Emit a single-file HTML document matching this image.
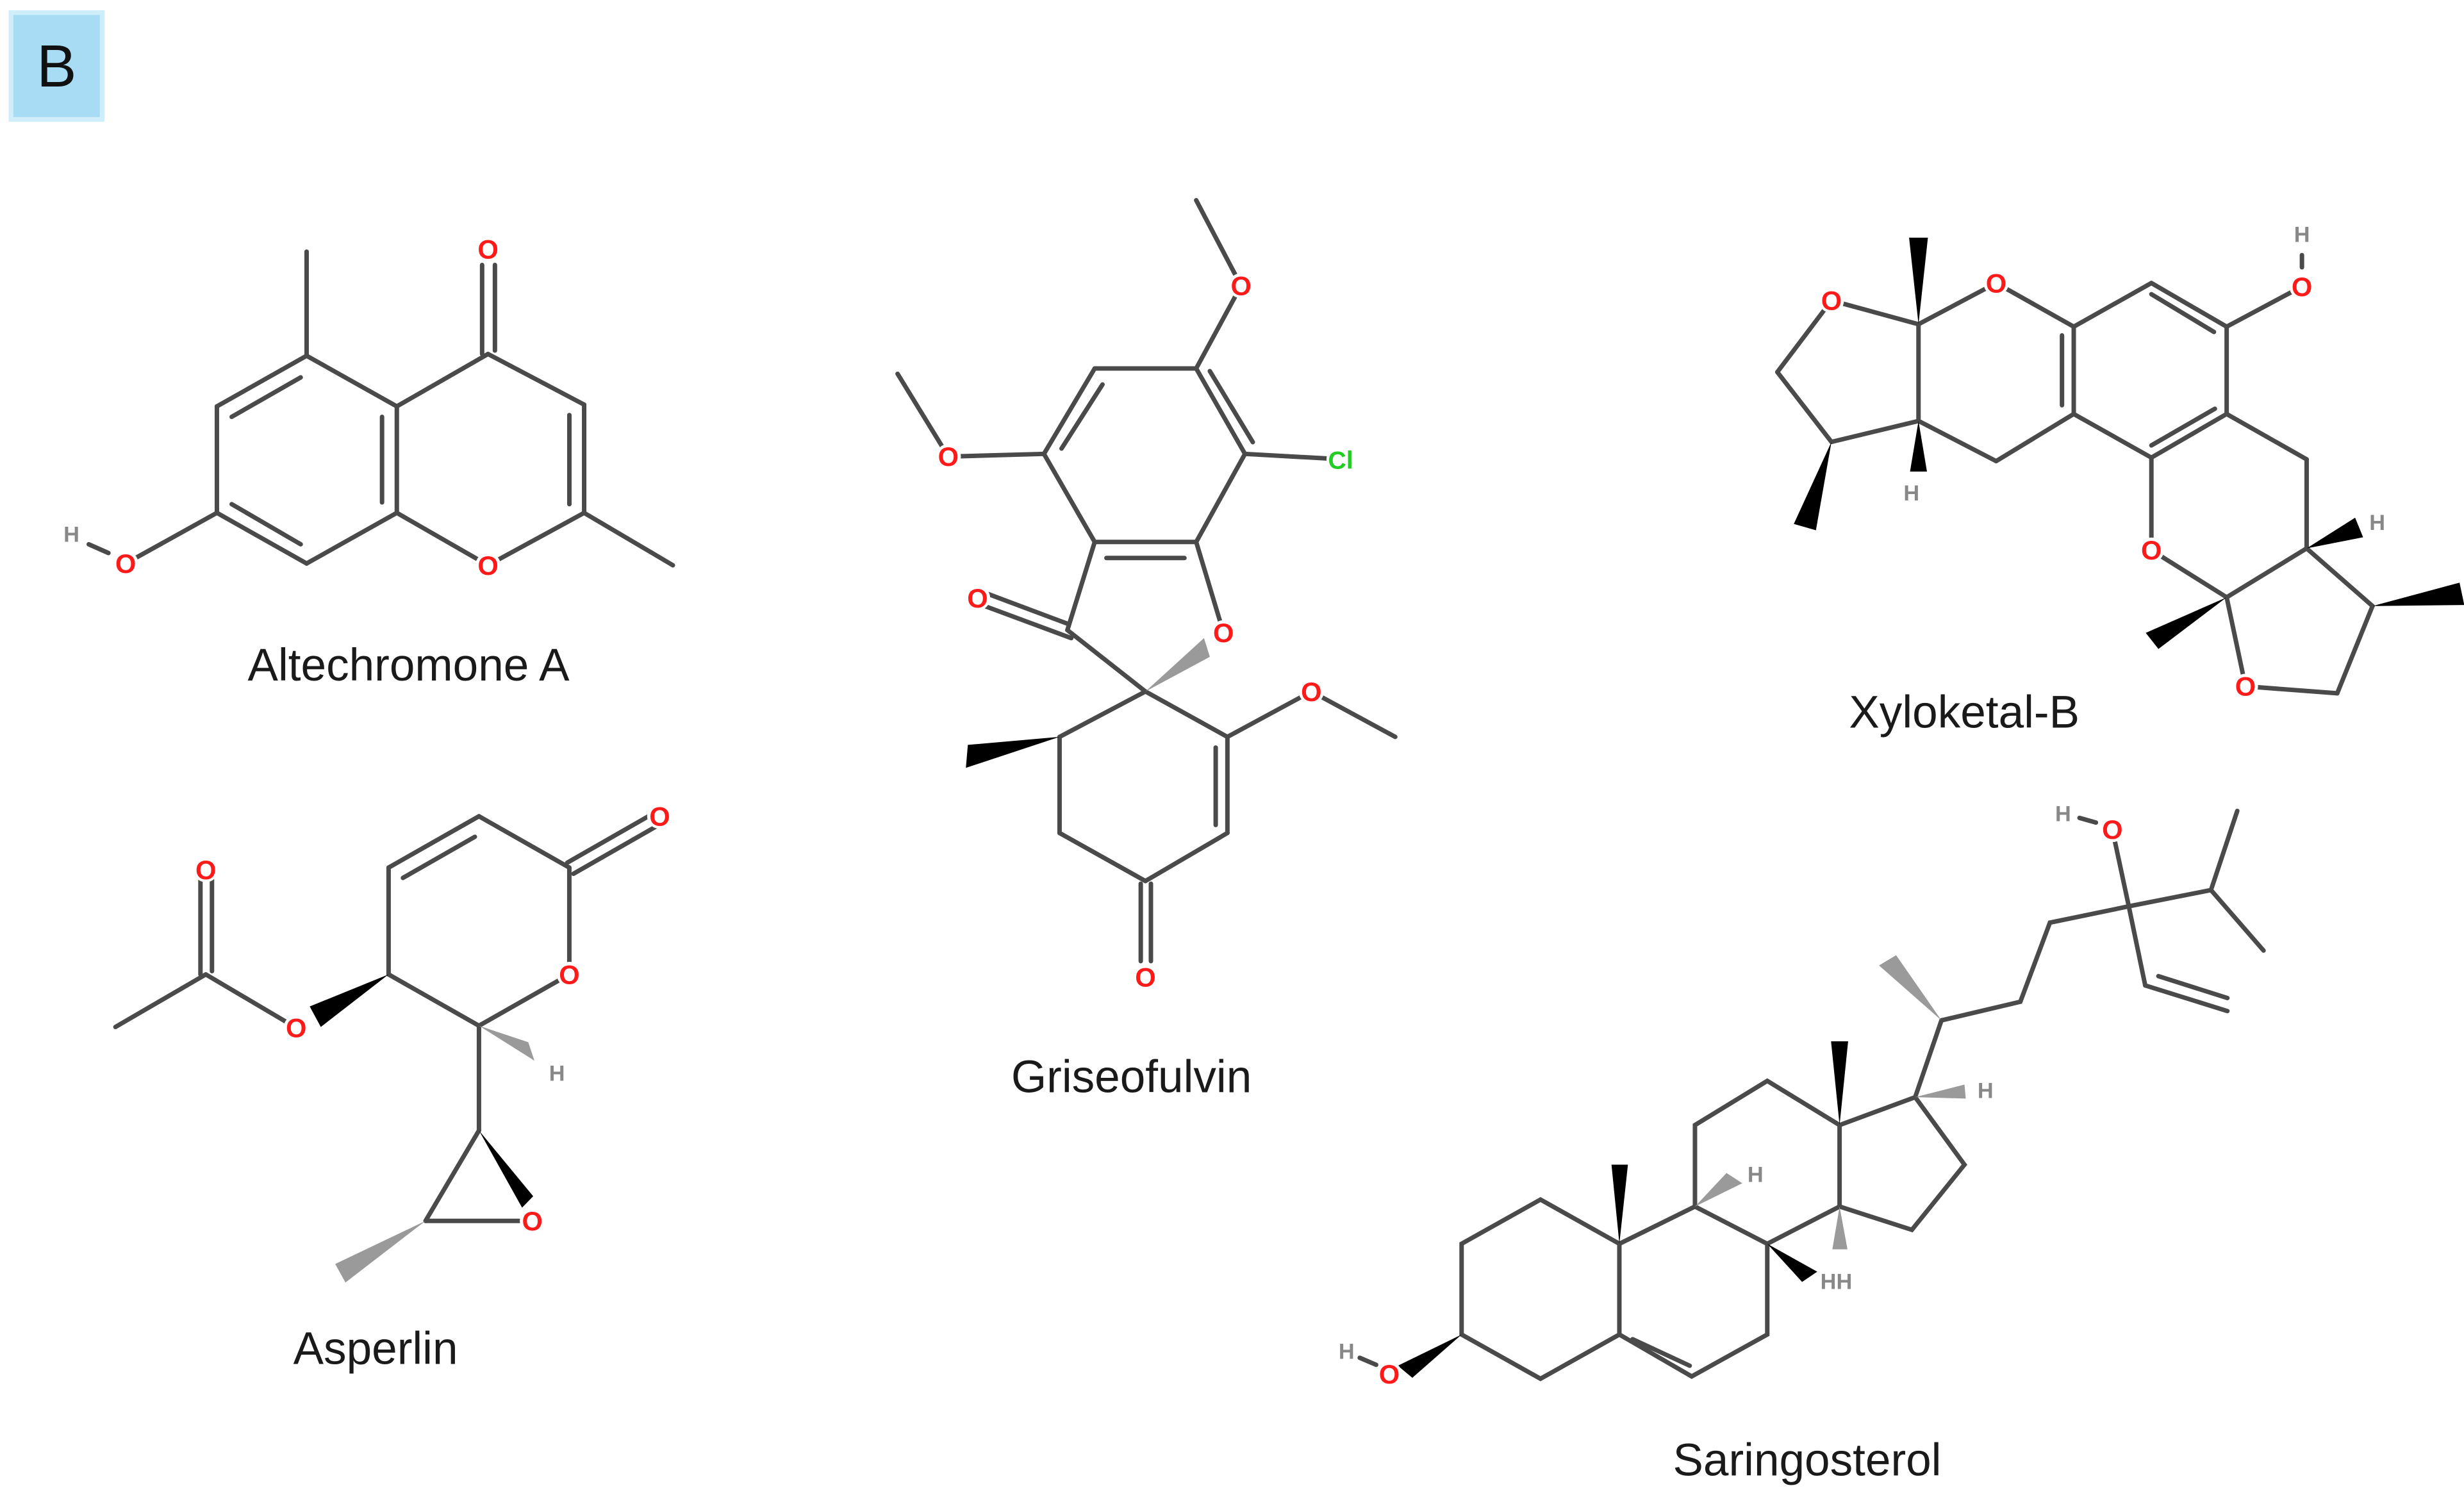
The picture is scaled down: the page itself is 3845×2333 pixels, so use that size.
<!DOCTYPE html>
<html><head><meta charset="utf-8">
<style>
html,body{margin:0;padding:0;background:#fff;}
svg{display:block}
.b line,.b polyline{stroke:#4a4a4a;stroke-width:7;vector-effect:non-scaling-stroke;stroke-linecap:round;fill:none}
.w{fill:#000}
.h{fill:#9a9a9a}
.o{fill:#ff1a1a;font-family:"Liberation Sans",sans-serif;font-size:17px;font-weight:bold;text-anchor:middle}
.hh{fill:#888;font-family:"Liberation Sans",sans-serif;font-size:14px;font-weight:bold;text-anchor:middle}
.cl{fill:#22cc22;font-family:"Liberation Sans",sans-serif;font-size:16px;font-weight:bold;text-anchor:middle}
.lab{fill:#1a1a1a;font-family:"Liberation Sans",sans-serif;font-size:29px;text-anchor:middle}
</style></head><body>
<svg width="3845" height="2333" viewBox="0 0 1568 951.4" xmlns="http://www.w3.org/2000/svg">
<rect x="0" y="0" width="1568" height="951.4" fill="#fff"/>
<rect x="7" y="8" width="58" height="68" fill="#a8dcf4" stroke="#cfeefa" stroke-width="3"/>
<text x="36" y="55" style="font-family:'Liberation Sans',sans-serif;font-size:38px;fill:#111;text-anchor:middle">B</text>

<!-- Altechromone A -->
<g class="b" transform="matrix(0.3137,0,0,0.2222,0,101.96)">
<line x1="622" y1="262" x2="622" y2="560"/>
<line x1="622" y1="560" x2="805" y2="705"/>
<line x1="805" y1="705" x2="805" y2="1010"/>
<line x1="805" y1="1010" x2="622" y2="1155"/>
<line x1="622" y1="1155" x2="440" y2="1010"/>
<line x1="440" y1="1010" x2="440" y2="705"/>
<line x1="440" y1="705" x2="622" y2="560"/>
<line x1="470" y1="735" x2="610" y2="622"/>
<line x1="775" y1="735" x2="775" y2="980"/>
<line x1="470" y1="985" x2="610" y2="1100"/>
<line x1="805" y1="705" x2="990" y2="555"/>
<line x1="990" y1="555" x2="1185" y2="700"/>
<line x1="1185" y1="700" x2="1185" y2="1010"/>
<line x1="1155" y1="730" x2="1155" y2="985"/>
<line x1="1185" y1="1010" x2="1365" y2="1160"/>
<line x1="1185" y1="1010" x2="990" y2="1160"/>
<line x1="805" y1="1010" x2="990" y2="1160"/>
<line x1="978" y1="300" x2="978" y2="555"/>
<line x1="1004" y1="300" x2="1004" y2="545"/>
<line x1="440" y1="1010" x2="255" y2="1155"/>
<line x1="180" y1="1100" x2="220" y2="1125"/>
<g transform="translate(990,255) scale(3.19,4.5)"><circle r="8" fill="#fff"/><text y="6" class="o">O</text></g>
<g transform="translate(990,1160) scale(3.19,4.5)"><circle r="8" fill="#fff"/><text y="6" class="o">O</text></g>
<g transform="translate(255,1155) scale(3.19,4.5)"><circle r="8" fill="#fff"/><text y="6" class="o">O</text></g>
<g transform="translate(145,1070) scale(3.19,4.5)"><text y="5" class="hh">H</text></g>
</g>
<text x="260" y="433" class="lab">Altechromone A</text>

<!-- Griseofulvin -->
<g class="b" transform="matrix(0.2484,0,0,0.3398,530.2,101.96)">
<line x1="930" y1="75" x2="1045" y2="235"/>
<line x1="1045" y1="235" x2="930" y2="390"/>
<line x1="930" y1="390" x2="670" y2="390"/>
<line x1="670" y1="390" x2="540" y2="550"/>
<line x1="690" y1="420" x2="585" y2="540"/>
<line x1="540" y1="550" x2="670" y2="715"/>
<line x1="670" y1="715" x2="930" y2="715"/>
<line x1="700" y1="745" x2="900" y2="745"/>
<line x1="930" y1="715" x2="1055" y2="550"/>
<line x1="1055" y1="550" x2="930" y2="390"/>
<line x1="965" y1="395" x2="1075" y2="528"/>
<line x1="1055" y1="550" x2="1300" y2="560"/>
<line x1="540" y1="550" x2="295" y2="555"/>
<line x1="295" y1="555" x2="165" y2="400"/>
<line x1="930" y1="715" x2="1000" y2="885"/>
<line x1="670" y1="715" x2="600" y2="880"/>
<line x1="600" y1="880" x2="800" y2="995"/>
<line x1="610" y1="895" x2="370" y2="830"/>
<line x1="600" y1="868" x2="370" y2="805"/>
<line x1="800" y1="995" x2="1010" y2="1080"/>
<line x1="1010" y1="1080" x2="1225" y2="995"/>
<line x1="1225" y1="995" x2="1440" y2="1080"/>
<line x1="1010" y1="1080" x2="1010" y2="1260"/>
<line x1="980" y1="1100" x2="980" y2="1245"/>
<line x1="1010" y1="1260" x2="800" y2="1350"/>
<line x1="800" y1="1350" x2="580" y2="1260"/>
<line x1="580" y1="1260" x2="580" y2="1080"/>
<line x1="580" y1="1080" x2="800" y2="995"/>
<line x1="788" y1="1355" x2="788" y2="1500"/>
<line x1="814" y1="1355" x2="814" y2="1500"/>
<polygon class="w" points="580,1080 345,1095 340,1138"/>
<polygon class="h" points="800,995 950,895 965,930"/>
<g transform="translate(1045,235) scale(4.026,2.943)"><circle r="8" fill="#fff"/><text y="6" class="o">O</text></g>
<g transform="translate(295,555) scale(4.026,2.943)"><circle r="8" fill="#fff"/><text y="6" class="o">O</text></g>
<g transform="translate(1300,560) scale(4.026,2.943)"><circle r="9" fill="#fff"/><text y="6" class="cl">Cl</text></g>
<g transform="translate(1000,885) scale(4.026,2.943)"><circle r="8" fill="#fff"/><text y="6" class="o">O</text></g>
<g transform="translate(370,820) scale(4.026,2.943)"><circle r="8" fill="#fff"/><text y="6" class="o">O</text></g>
<g transform="translate(1225,995) scale(4.026,2.943)"><circle r="8" fill="#fff"/><text y="6" class="o">O</text></g>
<g transform="translate(800,1530) scale(4.026,2.943)"><circle r="8" fill="#fff"/><text y="6" class="o">O</text></g>
</g>
<text x="720" y="695" class="lab">Griseofulvin</text>

<!-- Xyloketal-B -->
<g class="b" transform="matrix(0.2994,0,0,0.2222,1101.1,122.35)">
<line x1="400" y1="378" x2="565" y2="260"/>
<line x1="565" y1="260" x2="730" y2="385"/>
<line x1="400" y1="378" x2="215" y2="310"/>
<line x1="215" y1="310" x2="100" y2="515"/>
<line x1="100" y1="515" x2="215" y2="715"/>
<line x1="215" y1="715" x2="400" y2="655"/>
<line x1="400" y1="655" x2="400" y2="378"/>
<line x1="400" y1="655" x2="565" y2="770"/>
<line x1="565" y1="770" x2="730" y2="635"/>
<line x1="730" y1="635" x2="730" y2="385"/>
<line x1="705" y1="410" x2="705" y2="610"/>
<line x1="730" y1="385" x2="895" y2="260"/>
<line x1="895" y1="260" x2="1055" y2="385"/>
<line x1="895" y1="292" x2="1028" y2="400"/>
<line x1="1055" y1="385" x2="1055" y2="635"/>
<line x1="1055" y1="635" x2="895" y2="760"/>
<line x1="1030" y1="620" x2="895" y2="725"/>
<line x1="895" y1="760" x2="730" y2="635"/>
<line x1="1055" y1="385" x2="1215" y2="270"/>
<line x1="1215" y1="180" x2="1215" y2="215"/>
<line x1="895" y1="760" x2="895" y2="1025"/>
<line x1="1055" y1="635" x2="1225" y2="765"/>
<line x1="1225" y1="765" x2="1225" y2="1020"/>
<line x1="895" y1="1025" x2="1055" y2="1160"/>
<line x1="1225" y1="1020" x2="1055" y2="1160"/>
<line x1="1055" y1="1160" x2="1095" y2="1415"/>
<line x1="1095" y1="1415" x2="1290" y2="1435"/>
<line x1="1290" y1="1435" x2="1365" y2="1185"/>
<line x1="1365" y1="1185" x2="1225" y2="1020"/>
<polygon class="w" points="400,378 380,130 420,130"/>
<polygon class="w" points="400,655 382,800 418,800"/>
<polygon class="w" points="215,715 135,950 182,968"/>
<polygon class="w" points="1225,1020 1328,932 1345,988"/>
<polygon class="w" points="1055,1160 883,1262 910,1308"/>
<polygon class="w" points="1365,1185 1550,1118 1560,1182"/>
<g transform="translate(565,260) scale(3.34,4.5)"><circle r="8" fill="#fff"/><text y="6" class="o">O</text></g>
<g transform="translate(215,310) scale(3.34,4.5)"><circle r="8" fill="#fff"/><text y="6" class="o">O</text></g>
<g transform="translate(1215,270) scale(3.34,4.5)"><circle r="8" fill="#fff"/><text y="6" class="o">O</text></g>
<g transform="translate(1215,120) scale(3.34,4.5)"><text y="5" class="hh">H</text></g>
<g transform="translate(385,860) scale(3.34,4.5)"><text y="5" class="hh">H</text></g>
<g transform="translate(895,1025) scale(3.34,4.5)"><circle r="8" fill="#fff"/><text y="6" class="o">O</text></g>
<g transform="translate(1375,945) scale(3.34,4.5)"><text y="5" class="hh">H</text></g>
<g transform="translate(1095,1415) scale(3.34,4.5)"><circle r="8" fill="#fff"/><text y="6" class="o">O</text></g>
</g>
<text x="1250" y="463" class="lab">Xyloketal-B</text>

<!-- Asperlin -->
<g class="b" transform="matrix(0.2614,0,0,0.2614,40.78,489.4)">
<line x1="125" y1="628" x2="345" y2="500"/>
<line x1="345" y1="500" x2="565" y2="630"/>
<line x1="332" y1="500" x2="332" y2="265"/>
<line x1="360" y1="492" x2="360" y2="265"/>
<line x1="790" y1="500" x2="790" y2="240"/>
<line x1="790" y1="240" x2="1010" y2="115"/>
<line x1="825" y1="265" x2="1000" y2="165"/>
<line x1="1010" y1="115" x2="1230" y2="240"/>
<line x1="1230" y1="240" x2="1230" y2="500"/>
<line x1="1230" y1="500" x2="1010" y2="625"/>
<line x1="1010" y1="625" x2="790" y2="500"/>
<line x1="1225" y1="228" x2="1440" y2="105"/>
<line x1="1240" y1="255" x2="1455" y2="132"/>
<line x1="1010" y1="625" x2="1010" y2="880"/>
<line x1="1010" y1="880" x2="880" y2="1100"/>
<line x1="880" y1="1100" x2="1140" y2="1100"/>
<polygon class="w" points="790,500 598,578 625,628"/>
<polygon class="w" points="1010,880 1115,1068 1142,1040"/>
<polygon class="h" points="1010,625 1130,665 1145,710"/>
<polygon class="h" points="880,1100 660,1205 685,1250"/>
<g transform="translate(345,245) scale(3.825,3.825)"><circle r="8" fill="#fff"/><text y="6" class="o">O</text></g>
<g transform="translate(565,630) scale(3.825,3.825)"><circle r="8" fill="#fff"/><text y="6" class="o">O</text></g>
<g transform="translate(1230,500) scale(3.825,3.825)"><circle r="8" fill="#fff"/><text y="6" class="o">O</text></g>
<g transform="translate(1450,115) scale(3.825,3.825)"><circle r="8" fill="#fff"/><text y="6" class="o">O</text></g>
<g transform="translate(1140,1100) scale(3.825,3.825)"><circle r="8" fill="#fff"/><text y="6" class="o">O</text></g>
<g transform="translate(1200,740) scale(3.825,3.825)"><text y="5" class="hh">H</text></g>
</g>
<text x="239" y="868" class="lab">Asperlin</text>

<!-- Saringosterol -->
<g class="b" transform="matrix(0.4183,0,0,0.2962,836,489.4)">
<polyline points="465,1020 345,925 225,1020 225,1215 345,1310 465,1215 465,1020"/>
<polyline points="465,1020 580,940 690,1020 690,1215 575,1305 465,1215"/>
<line x1="485" y1="1225" x2="572" y2="1282"/>
<polyline points="580,940 580,765 690,670 800,765 800,940 690,1020"/>
<polyline points="800,765 915,705 990,850 910,990 800,940"/>
<line x1="915" y1="705" x2="955" y2="540"/>
<polyline points="955,540 1075,500 1120,330 1240,295 1365,260 1405,90"/>
<line x1="1365" y1="260" x2="1445" y2="390"/>
<line x1="1240" y1="295" x2="1215" y2="130"/>
<line x1="1240" y1="295" x2="1265" y2="465"/>
<line x1="1265" y1="465" x2="1390" y2="520"/>
<line x1="1285" y1="445" x2="1390" y2="492"/>
<line x1="1165" y1="105" x2="1190" y2="115"/>
<line x1="70" y1="1265" x2="95" y2="1280"/>
<polygon class="w" points="465,1020 453,850 478,850"/>
<polygon class="w" points="800,765 787,585 813,585"/>
<polygon class="w" points="225,1215 128,1282 150,1308"/>
<polygon class="w" points="690,1020 743,1102 766,1080"/>
<polygon class="h" points="580,940 628,868 652,890"/>
<polygon class="h" points="800,940 789,1032 812,1032"/>
<polygon class="h" points="915,705 990,678 992,708"/>
<polygon class="h" points="955,540 860,422 886,400"/>
<g transform="translate(115,1300) scale(2.391,3.376)"><circle r="8" fill="#fff"/><text y="6" class="o">O</text></g>
<g transform="translate(50,1250) scale(2.391,3.376)"><text y="5" class="hh">H</text></g>
<g transform="translate(1215,130) scale(2.391,3.376)"><circle r="8" fill="#fff"/><text y="6" class="o">O</text></g>
<g transform="translate(1140,95) scale(2.391,3.376)"><text y="5" class="hh">H</text></g>
<g transform="translate(672,870) scale(2.391,3.376)"><text y="5" class="hh">H</text></g>
<g transform="translate(1022,690) scale(2.391,3.376)"><text y="5" class="hh">H</text></g>
<g transform="translate(795,1100) scale(2.391,3.376)"><text y="5" class="hh">HH</text></g>
</g>
<text x="1150" y="939" class="lab">Saringosterol</text>
</svg>
</body></html>
